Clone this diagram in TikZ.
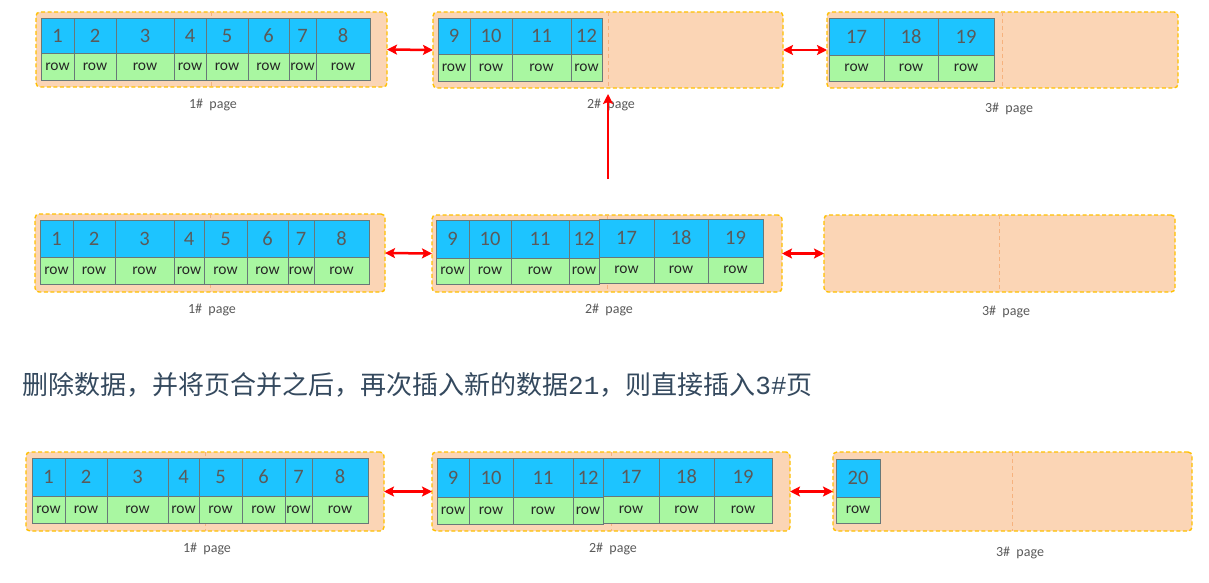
\documentclass[tikz,border=0pt]{standalone}
\usepackage{fontspec}
\setmainfont{Carlito}
\setmonofont{Liberation Mono}
\newfontfamily\cjkfont{Noto Sans CJK SC}
\usetikzlibrary{arrows.meta}
\definecolor{cellblue}{HTML}{1DC4FF}
\definecolor{cellgreen}{HTML}{A9F7A1}
\definecolor{numgray}{HTML}{5A5A5A}
\definecolor{cellborder}{HTML}{687878}
\definecolor{pagefill}{HTML}{FBD5B5}
\definecolor{pageborder}{HTML}{FFC000}
\definecolor{midline}{HTML}{F6B27E}
\definecolor{captext}{HTML}{34495E}
\tikzset{
  pagebox/.style={draw=pageborder, fill=pagefill, line width=1.4pt, dash pattern=on 4pt off 2.5pt, rounded corners=4pt, inner sep=0pt, outer sep=0pt, anchor=north west},
  midsep/.style={draw=midline, line width=1pt, dash pattern=on 4pt off 3pt},
  numcell/.style={draw=cellborder, fill=cellblue, line width=0.9pt, inner sep=0pt, outer sep=0pt, anchor=north west, text=numgray, font=\fontsize{20.5}{24}\selectfont},
  rowcell/.style={draw=cellborder, fill=cellgreen, line width=0.9pt, inner sep=0pt, outer sep=0pt, anchor=north west, text=black!85, font=\fontsize{15.5}{18}\selectfont},
  pagelabel/.style={text=numgray, font=\fontsize{14}{17}\selectfont, inner sep=0pt},
  linkarrow/.style={draw=red, line width=2.5pt, {Stealth[length=10pt,width=10pt,inset=2pt]}-{Stealth[length=10pt,width=10pt,inset=2pt]}},
  uparrow/.style={draw=red, line width=2.5pt, -{Stealth[length=10pt,width=10pt,inset=2pt]}}
}
\newcommand\pgcell[7]{%
  \node[numcell, minimum width={#3pt-#2pt}, minimum height={#5pt-#4pt}] (#1n) at (#2,#4) {#7};
  \node[rowcell, minimum width={#3pt-#2pt}, minimum height={#6pt-#5pt}] (#1r) at (#2,#5) {row};
}
\newcommand\page[5]{% name, x1, y1, x2, y2
  \node[pagebox, minimum width={#4pt-#2pt}, minimum height={#5pt-#3pt}] (#1) at (#2,#3) {};
  \draw[midsep] (#1.north) -- (#1.south);
}
\begin{document}
\begin{tikzpicture}[x=1pt,y=-1pt]
\useasboundingbox[fill=white] (0,0) rectangle (1209,583);

% ---------- top row ----------
\page{ta}{36}{12}{387}{87}
\foreach \a/\b/\t [count=\i] in {41/74/1,74/116/2,116/174/3,174/206/4,206/248/5,248/289/6,289/316/7,316/370/8}
  {\pgcell{ta\i}{\a}{\b}{18}{53}{80}{\t}}
\page{tb}{433}{12}{783}{88}
\foreach \a/\b/\t [count=\i] in {438/470/9,470/512/10,512/571/11,571/602/12}
  {\pgcell{tb\i}{\a}{\b}{18}{54}{81}{\t}}
\page{tc}{827}{12}{1178}{88}
\foreach \a/\b/\t [count=\i] in {829/884/17,884/938/18,938/994/19}
  {\pgcell{tc\i}{\a}{\b}{18}{55}{81}{\t}}
\node[pagelabel] (tal) at (213,105) {1\#\ \ page};
\node[pagelabel] (tbl) at (611,105) {2\#\ \ page};
\node[pagelabel] (tcl) at (1009,109) {3\#\ \ page};
\draw[linkarrow] (ta.east) -- (tb.west);
\draw[linkarrow] (tb.east) -- (tc.west);

% ---------- middle row ----------
\page{ma}{35}{214}{385}{292}
\foreach \a/\b/\t [count=\i] in {40/73/1,73/115/2,115/174/3,174/204/4,204/247/5,247/288/6,288/314/7,314/369/8}
  {\pgcell{ma\i}{\a}{\b}{220}{257}{284}{\t}}
\page{mb}{432}{215}{782}{292}
\foreach \a/\b/\t [count=\i] in {436/469/9,469/511/10,511/569/11,569/599/12}
  {\pgcell{mb\i}{\a}{\b}{220}{258}{284}{\t}}
\foreach \a/\b/\t [count=\i] in {599/654/17,654/708/18,708/763/19}
  {\pgcell{mbx\i}{\a}{\b}{219}{257}{283}{\t}}
\page{mc}{824}{215}{1175}{292}
\node[pagelabel] (mal) at (212,310) {1\#\ \ page};
\node[pagelabel] (mbl) at (609,310) {2\#\ \ page};
\node[pagelabel] (mcl) at (1006,312) {3\#\ \ page};
\draw[linkarrow] (ma.east) -- (mb.west);
\draw[linkarrow] (mb.east) -- (mc.west);

% vertical arrow from middle row to top row
\coordinate (vstart) at (608,179);
\draw[uparrow, shorten >=6pt] (vstart) -- (tb.south);

% ---------- caption ----------
\node[anchor=west, inner sep=0pt, text=captext, font=\cjkfont\fontsize{26}{31}\selectfont] (caption) at (22,385)
  {删除数据，并将页合并之后，再次插入新的数据{\ttfamily 21}，则直接插入{\ttfamily 3\#}页};

% ---------- bottom row ----------
\page{ba}{26}{452}{384}{531}
\foreach \a/\b/\t [count=\i] in {32/65/1,65/107/2,107/168/3,168/199/4,199/242/5,242/285/6,285/312/7,312/368/8}
  {\pgcell{ba\i}{\a}{\b}{458}{496}{523}{\t}}
\page{bb}{432}{452}{790}{531}
\foreach \a/\b/\t [count=\i] in {437/469/9,469/513/10,513/573/11,573/603/12}
  {\pgcell{bb\i}{\a}{\b}{458}{497}{524}{\t}}
\foreach \a/\b/\t [count=\i] in {603/659/17,659/714/18,714/772/19}
  {\pgcell{bbx\i}{\a}{\b}{458}{496}{523}{\t}}
\page{bc}{833}{452}{1192}{531}
\pgcell{bc1}{836}{880}{459}{497}{523}{20}
\node[pagelabel] (bal) at (207,549) {1\#\ \ page};
\node[pagelabel] (bbl) at (613,549) {2\#\ \ page};
\node[pagelabel] (bcl) at (1020,553) {3\#\ \ page};
\draw[linkarrow] (ba.east) -- (bb.west);
\draw[linkarrow] (bb.east) -- (bc.west);
\end{tikzpicture}
\end{document}
